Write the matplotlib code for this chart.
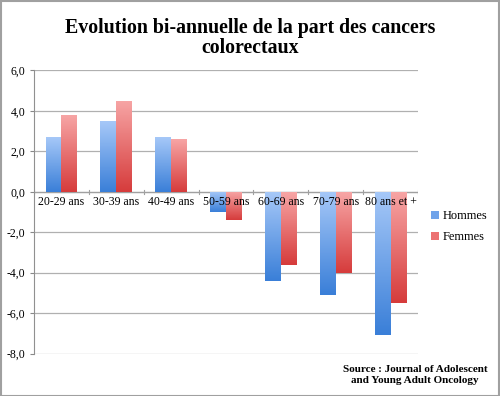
import numpy as np
import matplotlib.pyplot as plt
from matplotlib.colors import LinearSegmentedColormap
from matplotlib.patches import Rectangle
from matplotlib.ticker import FuncFormatter

categories = ["20-29 ans", "30-39 ans", "40-49 ans", "50-59 ans",
              "60-69 ans", "70-79 ans", "80 ans et +"]
hommes = [2.7, 3.5, 2.7, -1.0, -4.4, -5.1, -7.1]
femmes = [3.8, 4.5, 2.6, -1.4, -3.6, -4.0, -5.5]
series_names = ["Hommes", "Femmes"]
title = "Evolution bi-annuelle de la part des cancers\ncolorectaux"
source = "Source : Journal of Adolescent\nand Young Adult Oncology"

plt.rcParams['font.family'] = ['Liberation Serif', 'DejaVu Serif']

fig = plt.figure(figsize=(5.0, 3.96), dpi=100)
ax = fig.add_axes([0.068, 0.107, 0.768, 0.715])

x = np.arange(len(categories))
w = 0.29
blue_cmap = LinearSegmentedColormap.from_list("b", ["#3a7fd8", "#a6c8f8"])
red_cmap = LinearSegmentedColormap.from_list("r", ["#d63c3c", "#f7a5a5"])

b1 = ax.bar(x - w / 2, hommes, w, color="#6fa3ea", label=series_names[0], zorder=3)
b2 = ax.bar(x + w / 2, femmes, w, color="#ec7272", label=series_names[1], zorder=3)

# vertical gradient inside each bar (light top, dark bottom)
grad = np.linspace(0, 1, 100).reshape(-1, 1)
for bars, cmap in ((b1, blue_cmap), (b2, red_cmap)):
    for p in bars:
        x0, y0 = p.get_x(), p.get_y()
        x1, y1 = x0 + p.get_width(), y0 + p.get_height()
        lo, hi = min(y0, y1), max(y0, y1)
        im = ax.imshow(grad, cmap=cmap, extent=(x0, x1, lo, hi), origin="lower",
                       aspect="auto", zorder=4)
        im.set_clip_path(p)

ax.set_xlim(-0.5, len(categories) - 0.5)
ax.set_ylim(-8, 6)
ax.set_yticks(np.arange(-8, 7, 2))
ax.yaxis.set_major_formatter(FuncFormatter(lambda v, _: f"{v:.1f}".replace(".", ",")))
ax.tick_params(axis="y", labelsize=8.5, length=3, color="#888888", pad=3)
ax.grid(axis="y", color="#b0b0b0", linewidth=0.9, zorder=0)

for s in ["top", "right", "bottom"]:
    ax.spines[s].set_visible(False)
ax.spines["left"].set_color("#909090")

# category axis at zero
ax.axhline(0, color="#a0a0a0", linewidth=0.9, zorder=2)
ax.set_xticks([])
for xb in np.arange(-0.5, len(categories), 1.0):
    ax.plot([xb, xb], [-0.1, 0.1], color="#a0a0a0", linewidth=0.8, zorder=2)
for xi, lab in zip(x, categories):
    ax.text(xi, -0.22, lab, ha="center", va="top", fontsize=8.5, zorder=5)

fig.text(0.5, 0.905, title, ha="center", va="center", fontsize=14.3,
         fontweight="bold", linespacing=1.0)
fig.text(0.83, 0.053, source, ha="center", va="center", fontsize=8,
         fontweight="bold", linespacing=1.35)

leg = ax.legend(loc="center left", bbox_to_anchor=(1.005, 0.448), frameon=False,
                fontsize=9, handlelength=0.6, handleheight=0.6, handletextpad=0.3,
                labelspacing=0.75)

fig.patches.append(Rectangle((0.001, 0.001), 0.997, 0.997, transform=fig.transFigure,
                             fill=False, edgecolor="#a0a0a0", linewidth=1.5))

fig.savefig("out.png", dpi=100)
